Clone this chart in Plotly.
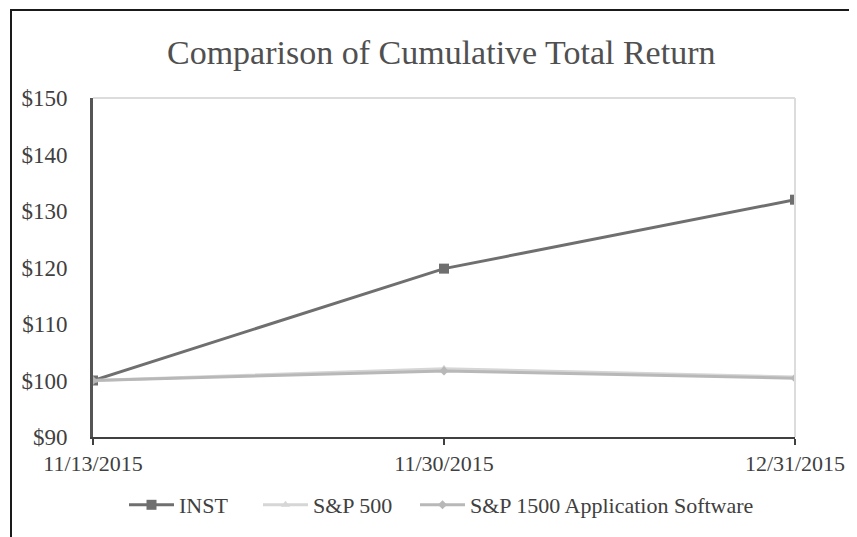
import plotly.graph_objects as go

dates = ["11/13/2015", "11/30/2015", "12/31/2015"]
inst = [100.0, 119.8, 132.0]
sp500 = [100.0, 102.1, 100.6]
sp1500_app = [100.0, 101.7, 100.4]
y_ticks = [90, 100, 110, 120, 130, 140, 150]

# page has an 8px body margin; design in reference pixel coordinates
OFF = 8
W, H = 857, 537
L, R, T, B = 93, 795, 98, 437

font_family = "serif"

def px_x(px):
    return (px - L) / (R - L)

def px_y(py):
    return (B - py) / (B - T)

fig = go.Figure()
fig.add_trace(go.Scatter(x=dates, y=inst, name="INST", mode="lines+markers",
                         line=dict(color="#6f6f6f", width=3),
                         marker=dict(symbol="square", size=10, color="#6f6f6f"),
                         legend="legend"))
fig.add_trace(go.Scatter(x=dates, y=sp500, name="S&P 500", mode="lines+markers",
                         line=dict(color="#d6d6d6", width=3),
                         marker=dict(symbol="triangle-up", size=8, color="#d6d6d6"),
                         legend="legend2"))
fig.add_trace(go.Scatter(x=dates, y=sp1500_app, name="S&P 1500 Application Software", mode="lines+markers",
                         line=dict(color="#b8b8b8", width=3),
                         marker=dict(symbol="diamond", size=7, color="#b8b8b8"),
                         legend="legend3"))

def leg(xpx):
    return dict(orientation="h", x=px_x(xpx), xanchor="left", y=px_y(505), yanchor="middle",
                font=dict(family=font_family, size=22, color="#404040"),
                bgcolor="rgba(0,0,0,0)", itemwidth=45, borderwidth=0)

fig.update_layout(
    width=W - OFF, height=H - OFF,
    margin=dict(l=L - OFF, r=W - R, t=T - OFF, b=H - B, autoexpand=False),
    paper_bgcolor="white", plot_bgcolor="white",
    font=dict(family=font_family, color="#404040", size=20),
    showlegend=True,
    legend=leg(124), legend2=leg(258), legend3=leg(415),
    xaxis=dict(type="category", range=[0, 2], showgrid=False, zeroline=False,
               showline=True, linecolor="#404040", linewidth=2,
               ticks="outside", ticklen=6, tickcolor="#404040", tickwidth=2,
               tickfont=dict(family=font_family, size=22, color="#404040"),
               mirror=False),
    yaxis=dict(range=[90, 150], tickvals=y_ticks, ticktext=[f"${v}" for v in y_ticks],
               showgrid=False, zeroline=False, showline=True, linecolor="#555555", linewidth=3,
               ticks="", ticklabelstandoff=18,
               tickfont=dict(family=font_family, size=23, color="#404040")),
    annotations=[
        dict(text="Comparison of Cumulative Total Return", xref="paper", yref="paper",
             x=px_x(441), y=px_y(52), xanchor="center", yanchor="middle", showarrow=False,
             font=dict(family=font_family, size=34, color="#505050")),
    ],
    shapes=[
        dict(type="line", xref="paper", yref="paper", x0=0, x1=1, y0=1, y1=1,
             line=dict(color="#dcdcdc", width=2)),
        dict(type="line", xref="paper", yref="paper", x0=1, x1=1, y0=0, y1=1,
             line=dict(color="#dcdcdc", width=2)),
        dict(type="line", xref="paper", yref="paper", x0=px_x(10), x1=px_x(860), y0=px_y(10), y1=px_y(10),
             line=dict(color="#1a1a1a", width=2)),
        dict(type="line", xref="paper", yref="paper", x0=px_x(11), x1=px_x(11), y0=px_y(10), y1=px_y(540),
             line=dict(color="#1a1a1a", width=2)),
    ],
)

fig.write_html("out.html")
